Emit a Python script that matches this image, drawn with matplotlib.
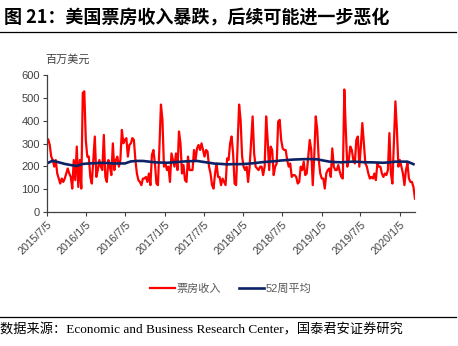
import matplotlib.pyplot as plt
import matplotlib.dates as mdates
import pandas as pd

plt.rcParams['font.family'] = ['Liberation Sans', 'Noto Sans CJK SC', 'DejaVu Sans']

# 周度票房收入（百万美元），2015/7/5 起
box_office = [
    300, 319, 294, 243, 228, 199, 228, 169, 147, 125,
    147, 132, 147, 169, 191, 169, 154, 103, 228, 140,
    287, 110, 228, 103, 522, 529, 316, 243, 243, 154,
    125, 228, 331, 154, 184, 228, 199, 184, 338, 154,
    132, 228, 199, 162, 301, 184, 228, 243, 199, 228,
    360, 301, 316, 324, 243, 294, 301, 324, 316, 228,
    169, 140, 132, 118, 147, 147, 154, 132, 169, 118,
    250, 272, 213, 125, 118, 287, 471, 404, 199, 213,
    184, 199, 132, 257, 228, 199, 257, 184, 353, 301,
    169, 206, 140, 132, 243, 184, 184, 184, 272, 228,
    279, 294, 272, 301, 272, 243, 272, 265, 199, 169,
    118, 103, 169, 213, 154, 154, 118, 147, 132, 118,
    235, 228, 300, 331, 257, 125, 118, 301, 471, 404,
    243, 199, 184, 199, 132, 199, 309, 419, 257, 199,
    191, 184, 199, 199, 162, 199, 419, 316, 184, 287,
    272, 162, 199, 213, 397, 404, 316, 279, 272, 272,
    228, 199, 213, 154, 162, 162, 154, 125, 132, 199,
    184, 221, 162, 169, 243, 316, 272, 118, 243, 419,
    360, 228, 169, 147, 147, 103, 169, 184, 191, 154,
    279, 199, 184, 184, 206, 177, 154, 147, 537, 360,
    199, 228, 287, 272, 228, 213, 316, 331, 199, 287,
    390, 301, 213, 199, 169, 147, 154, 147, 169, 140,
    213, 199, 199, 169, 154, 169, 162, 184, 346, 169,
    125, 301, 485, 360, 199, 228, 199, 169, 118, 184,
    213, 147, 132, 132, 110, 59,
]

# 52周平均，每4周取一个读数
avg_52w = [
    213, 225, 218, 211, 206, 202, 211, 213, 214, 216,
    215, 213, 213, 213, 222, 224, 224, 221, 218, 217,
    216, 218, 220, 222, 223, 224, 220, 216, 212, 211,
    209, 210, 210, 211, 213, 216, 219, 221, 223, 226,
    228, 230, 231, 232, 232, 231, 226, 221, 219, 218,
    220, 221, 220, 218, 218, 217, 216, 218, 221, 221,
    221, 210,
]

weeks = pd.date_range('2015-07-05', periods=len(box_office), freq='7D')
avg_dates = pd.date_range('2015-07-05', periods=len(avg_52w), freq='28D')
# 每半年一个刻度：1/5 和 7/5
tick_dates = pd.date_range('2015-07-01', periods=10, freq='6MS') + pd.Timedelta(days=4)

fig = plt.figure(figsize=(4.58, 3.46), dpi=100)

# 标题和分隔线
fig.text(0.008, 0.948, '图 21：美国票房收入暴跌，后续可能进一步恶化',
         fontsize=13, fontweight='bold', family=['Noto Sans CJK SC'],
         va='center', ha='left')
fig.add_artist(plt.Line2D([0, 0.995], [0.907, 0.907], color='black', lw=0.9))
fig.add_artist(plt.Line2D([0, 0.995], [0.083, 0.083], color='black', lw=0.9))
fig.text(0.0, 0.045, '数据来源：Economic and Business Research Center，国泰君安证券研究',
         fontsize=9.5, family=['Liberation Serif', 'Noto Sans CJK SC'],
         va='center', ha='left')

ax = fig.add_axes([0.102, 0.387, 0.804, 0.396])
ax.plot(weeks, box_office, color='#ff0000', lw=1.6, label='票房收入')
ax.plot(avg_dates, avg_52w, color='#0c2266', lw=1.9, label='52周平均')

ax.set_ylim(0, 600)
ax.set_yticks(range(0, 601, 100))
ax.set_xlim(weeks[0], weeks[-1])
ax.set_xticks(tick_dates)
ax.xaxis.set_major_formatter(
    plt.FuncFormatter(lambda v, p: '{0.year}/{0.month}/{0.day}'.format(mdates.num2date(v))))
plt.setp(ax.get_xticklabels(), rotation=45, ha='right', rotation_mode='anchor')

for s in ['top', 'right']:
    ax.spines[s].set_visible(False)
for s in ['left', 'bottom']:
    ax.spines[s].set_color('#404040')
    ax.spines[s].set_linewidth(0.9)
ax.tick_params(axis='y', labelsize=8, colors='#404040', length=3, width=0.8, pad=2)
ax.tick_params(axis='x', labelsize=7.8, colors='#404040', length=3, width=0.8, pad=2)

ax.text(-0.005, 1.11, '百万美元', transform=ax.transAxes, fontsize=8,
        color='#404040', family=['Noto Sans CJK SC'], ha='left', va='center')

ax.legend(loc='center', bbox_to_anchor=(0.5, -0.56), ncol=2, frameon=False,
          fontsize=8, handlelength=2.2, handletextpad=0.2, columnspacing=1.6,
          labelcolor='#595959')

fig.savefig('out.png', dpi=100)
